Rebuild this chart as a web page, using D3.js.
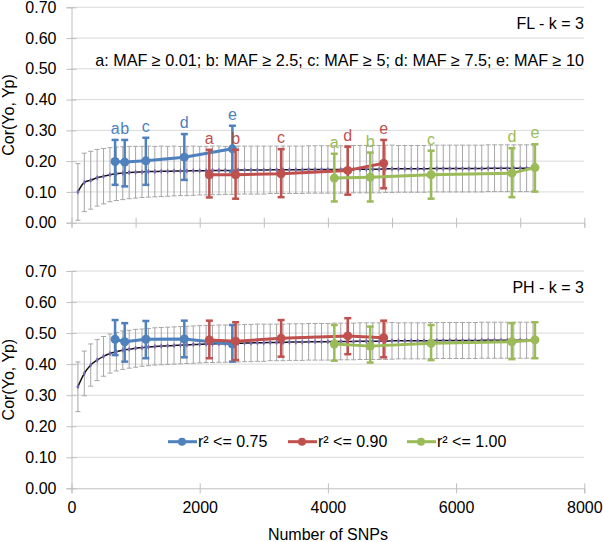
<!DOCTYPE html>
<html><head><meta charset="utf-8">
<script src="https://cdn.jsdelivr.net/npm/d3@7"></script>
<style>
body{margin:0;background:#fff;}
svg{display:block;font-family:"Liberation Sans",Arial,sans-serif;}
</style></head>
<body><svg id="c" width="603" height="542"></svg>
<script>
// ---------- DATA ----------
const snpGrid = d3.range(1, 73).map(i => i * 100); // 100..7200 (axis categories of the background curve)
const flMean = [0.100,0.131,0.138,0.146,0.151,0.156,0.159,0.161,0.163,0.164,
 0.165,0.166,0.166,0.167,0.167,0.168,0.168,0.168,0.169,0.169,
 0.169,0.170,0.170,0.170,0.170,0.171,0.171,0.171,0.171,0.171,
 0.172,0.172,0.172,0.172,0.172,0.172,0.173,0.173,0.173,0.173,
 0.173,0.173,0.174,0.174,0.174,0.174,0.174,0.174,0.175,0.175,
 0.175,0.175,0.175,0.175,0.175,0.176,0.176,0.176,0.176,0.176,
 0.176,0.176,0.176,0.176,0.177,0.177,0.177,0.177,0.177,0.177,0.177,0.177];
const flSd = [0.092,0.095,0.094,0.092,0.090,0.088,0.087,0.086,0.085,0.084,
 0.083,0.083,0.082,0.082,0.081,0.081,0.080,0.080,0.080,0.079,
 0.079,0.079,0.079,0.078,0.078,0.078,0.078,0.078,0.078,0.078,
 0.077,0.077,0.077,0.077,0.077,0.077,0.077,0.077,0.077,0.077,
 0.077,0.077,0.077,0.077,0.077,0.077,0.077,0.077,0.077,0.077,
 0.076,0.076,0.076,0.076,0.076,0.076,0.076,0.076,0.076,0.076,
 0.076,0.076,0.076,0.076,0.076,0.076,0.076,0.076,0.076,0.076,0.076,0.076];
const phMean = [0.327,0.370,0.397,0.413,0.425,0.434,0.440,0.445,0.448,0.451,
 0.453,0.455,0.457,0.458,0.459,0.460,0.461,0.462,0.463,0.464,
 0.465,0.465,0.466,0.466,0.467,0.467,0.468,0.468,0.469,0.469,
 0.470,0.470,0.470,0.471,0.471,0.471,0.472,0.472,0.472,0.472,
 0.473,0.473,0.473,0.473,0.474,0.474,0.474,0.474,0.474,0.475,
 0.475,0.475,0.475,0.475,0.475,0.476,0.476,0.476,0.476,0.476,
 0.476,0.476,0.476,0.477,0.477,0.477,0.477,0.477,0.477,0.477,0.477,0.477];
const phSd = [0.080,0.072,0.068,0.066,0.064,0.063,0.062,0.062,0.061,0.061,
 0.060,0.060,0.060,0.060,0.060,0.060,0.060,0.060,0.060,0.060,
 0.060,0.060,0.060,0.060,0.060,0.060,0.060,0.060,0.060,0.060,
 0.059,0.059,0.059,0.059,0.059,0.059,0.059,0.059,0.059,0.059,
 0.059,0.059,0.059,0.059,0.059,0.059,0.059,0.059,0.059,0.059,
 0.058,0.058,0.058,0.058,0.058,0.058,0.058,0.058,0.058,0.058,
 0.058,0.058,0.058,0.058,0.058,0.058,0.058,0.058,0.058,0.058,0.058,0.058];

const mafLabels = ["a","b","c","d","e"];
const seriesNames = ["r\u00B2 <= 0.75","r\u00B2 <= 0.90","r\u00B2 <= 1.00"];
const snp075 = [680, 830, 1160, 1760, 2510];
const snp090 = [2150, 2560, 3270, 4310, 4870];
const snp100 = [4100, 4660, 5610, 6870, 7230];
// FL panel
const fl075 = [0.199, 0.197, 0.201, 0.213, 0.240];
const fl075Lo = [0.123, 0.118, 0.123, 0.139, 0.166];
const fl075Hi = [0.269, 0.269, 0.276, 0.288, 0.315];
const fl090 = [0.156, 0.156, 0.159, 0.170, 0.193];
const fl090Lo = [0.082, 0.078, 0.083, 0.091, 0.112];
const fl090Hi = [0.237, 0.237, 0.239, 0.247, 0.269];
const fl100 = [0.145, 0.148, 0.156, 0.161, 0.179];
const fl100Lo = [0.069, 0.069, 0.078, 0.083, 0.101];
const fl100Hi = [0.224, 0.228, 0.234, 0.242, 0.255];
// PH panel
const ph075 = [0.480, 0.472, 0.480, 0.481, 0.465];
const ph075Lo = [0.429, 0.408, 0.419, 0.422, 0.408];
const ph075Hi = [0.542, 0.532, 0.539, 0.540, 0.526];
const ph090 = [0.478, 0.474, 0.483, 0.491, 0.485];
const ph090Lo = [0.419, 0.413, 0.424, 0.432, 0.422];
const ph090Hi = [0.540, 0.535, 0.542, 0.548, 0.540];
const ph100 = [0.465, 0.458, 0.467, 0.472, 0.478];
const ph100Lo = [0.411, 0.405, 0.413, 0.416, 0.419];
const ph100Hi = [0.526, 0.521, 0.526, 0.532, 0.535];

const yTicks = [0,0.1,0.2,0.3,0.4,0.5,0.6,0.7];
const xTicksTop = [0,1000,2000,3000,4000,5000,6000,7000,8000];
const xTicksBottom = [0,2000,4000,6000,8000];
const colors = ["#4F81BD","#C0504D","#9BBB59"];

// ---------- DRAW ----------
const svg = d3.select("#c");
const x = d3.scaleLinear().domain([0,8000]).range([71.5,584.3]);
const FS = 16;

function panel(y0, y1, mean, sd, series, xticks, showXLabels, title, showLetters){
  const y = d3.scaleLinear().domain([0,0.7]).range([y1,y0]);
  const g = svg.append("g");
  // gridlines
  g.selectAll("line.grid").data(yTicks.slice(1)).join("line")
    .attr("x1", x(0)).attr("x2", x(8000))
    .attr("y1", d=>y(d)).attr("y2", d=>y(d))
    .attr("stroke","#D9D9D9").attr("stroke-width",1);
  // y axis
  const ya = g.append("g").attr("transform",`translate(${x(0)},0)`)
    .call(d3.axisLeft(y).tickValues(yTicks).tickFormat(d3.format(".2f")).tickSize(5).tickPadding(10));
  ya.select(".domain").attr("stroke","#BFBFBF");
  ya.selectAll(".tick line").attr("stroke","#BFBFBF").attr("x1",5);
  ya.selectAll(".tick text").attr("font-size",FS).attr("fill","#000").attr("font-family","Liberation Sans, Arial");
  // x axis
  const xa = g.append("g").attr("transform",`translate(0,${y(0)})`)
    .call(d3.axisBottom(x).tickValues(xticks).tickSize(5).tickPadding(8).tickFormat(showXLabels? d3.format("d") : ()=>""));
  xa.select(".domain").attr("stroke","#BFBFBF");
  xa.selectAll(".tick line").attr("stroke","#BFBFBF").attr("y1",-5);
  xa.selectAll(".tick text").attr("font-size",FS).attr("fill","#000").attr("font-family","Liberation Sans, Arial");

  // gray error bars
  const bg = snpGrid.map((s,i)=>({s, m:mean[i], sd:sd[i]}));
  const eg = g.append("g").attr("stroke","#A6A6A6").attr("stroke-width",1);
  eg.selectAll("line.v").data(bg).join("line")
    .attr("x1",d=>x(d.s)).attr("x2",d=>x(d.s))
    .attr("y1",d=>y(d.m-d.sd)).attr("y2",d=>y(d.m+d.sd));
  eg.selectAll("line.t").data(bg).join("line")
    .attr("x1",d=>x(d.s)-2.5).attr("x2",d=>x(d.s)+2.5)
    .attr("y1",d=>y(d.m+d.sd)).attr("y2",d=>y(d.m+d.sd));
  eg.selectAll("line.b").data(bg).join("line")
    .attr("x1",d=>x(d.s)-2.5).attr("x2",d=>x(d.s)+2.5)
    .attr("y1",d=>y(d.m-d.sd)).attr("y2",d=>y(d.m-d.sd));
  // mean curve
  g.append("path").datum(bg)
    .attr("d", d3.line().x(d=>x(d.s)).y(d=>y(d.m)).curve(d3.curveMonotoneX))
    .attr("fill","none").attr("stroke","#141414").attr("stroke-width",1.5);
  g.selectAll("path.mk").data(bg).join("path")
    .attr("transform",d=>`translate(${x(d.s)},${y(d.m)})`)
    .attr("d", d3.symbol(d3.symbolDiamond, 9))
    .attr("fill","#7C6BB0");

  // colored series
  series.forEach((sr, k) => {
    const c = colors[k];
    const pts = sr.snp.map((s,i)=>({s, v:sr.v[i], lo:sr.lo[i], hi:sr.hi[i], lab:mafLabels[i]}));
    const sg = g.append("g");
    sg.append("path").datum(pts)
      .attr("d", d3.line().x(d=>x(d.s)).y(d=>y(d.v)))
      .attr("fill","none").attr("stroke",c).attr("stroke-width",3).attr("stroke-linejoin","round");
    const eb = sg.append("g").attr("stroke",c).attr("stroke-width",2.5);
    eb.selectAll("line.v").data(pts).join("line")
      .attr("x1",d=>x(d.s)).attr("x2",d=>x(d.s)).attr("y1",d=>y(d.lo)).attr("y2",d=>y(d.hi));
    eb.selectAll("line.t").data(pts).join("line")
      .attr("x1",d=>x(d.s)-3.5).attr("x2",d=>x(d.s)+3.5).attr("y1",d=>y(d.hi)).attr("y2",d=>y(d.hi));
    eb.selectAll("line.b").data(pts).join("line")
      .attr("x1",d=>x(d.s)-3.5).attr("x2",d=>x(d.s)+3.5).attr("y1",d=>y(d.lo)).attr("y2",d=>y(d.lo));
    sg.selectAll("circle").data(pts).join("circle")
      .attr("cx",d=>x(d.s)).attr("cy",d=>y(d.v)).attr("r",4.5).attr("fill",c);
    if (showLetters) {
      sg.selectAll("text").data(pts).join("text")
        .attr("x",d=>x(d.s)).attr("y",d=>y(d.hi)-6)
        .attr("text-anchor","middle").attr("font-size",FS).attr("fill",c)
        .text(d=>d.lab);
    }
  });

  // title
  g.append("text").attr("x",584).attr("y",y(0.7)+22).attr("text-anchor","end")
    .attr("font-size",FS).attr("fill","#000").text(title);
  // y label
  g.append("text").attr("transform",`translate(14,${(y0+y1)/2}) rotate(-90)`)
    .attr("text-anchor","middle").attr("font-size",FS).attr("fill","#000").text("Cor(Yo, Yp)");
  return y;
}

panel(7.3, 222.7, flMean, flSd, [
  {snp:snp075, v:fl075, lo:fl075Lo, hi:fl075Hi},
  {snp:snp090, v:fl090, lo:fl090Lo, hi:fl090Hi},
  {snp:snp100, v:fl100, lo:fl100Lo, hi:fl100Hi}], xTicksTop, false, "FL - k = 3", true);

svg.append("text").attr("x",584).attr("y",66).attr("text-anchor","end")
  .attr("font-size",16.2).attr("fill","#000")
  .text("a: MAF \u2265 0.01; b: MAF \u2265 2.5; c: MAF \u2265 5; d: MAF \u2265 7.5; e: MAF \u2265 10");

panel(271, 488.3, phMean, phSd, [
  {snp:snp075, v:ph075, lo:ph075Lo, hi:ph075Hi},
  {snp:snp090, v:ph090, lo:ph090Lo, hi:ph090Hi},
  {snp:snp100, v:ph100, lo:ph100Lo, hi:ph100Hi}], xTicksBottom, true, "PH - k = 3", false);

// legend
const legX = [168, 288, 407];
const lg = svg.append("g");
seriesNames.forEach((n,k)=>{
  const gx = legX[k], gy = 441.7;
  lg.append("line").attr("x1",gx).attr("x2",gx+29).attr("y1",gy).attr("y2",gy)
    .attr("stroke",colors[k]).attr("stroke-width",3);
  lg.append("circle").attr("cx",gx+14).attr("cy",gy).attr("r",4).attr("fill",colors[k]);
  lg.append("text").attr("x",gx+30).attr("y",gy+5.5).attr("font-size",FS).attr("fill","#000").text(n);
});

// x label
svg.append("text").attr("x",(x(0)+x(8000))/2).attr("y",540).attr("text-anchor","middle")
  .attr("font-size",FS).attr("fill","#000").text("Number of SNPs");
</script></body></html>
